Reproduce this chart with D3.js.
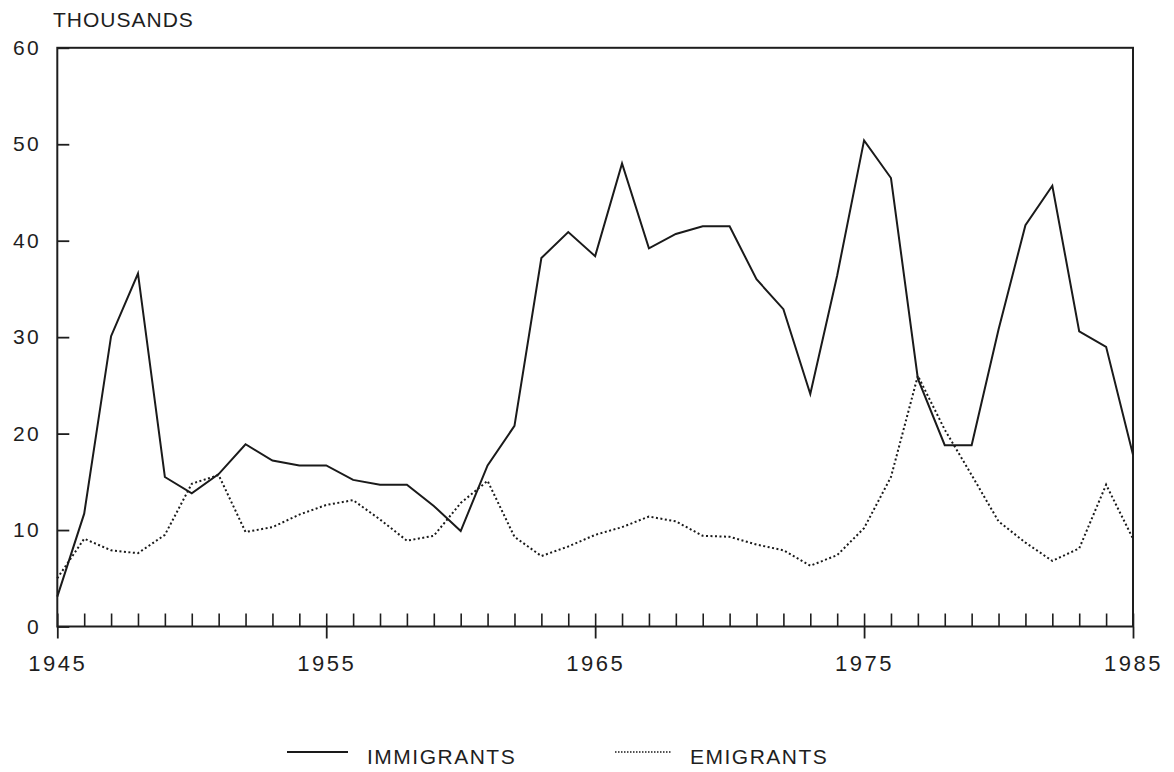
<!DOCTYPE html>
<html>
<head>
<meta charset="utf-8">
<script src="https://cdn.jsdelivr.net/npm/d3@7"></script>
<style>
  body { margin: 0; background: #fff; }
  text { font-family: 'Liberation Sans', Arial, sans-serif; fill: #1e1e1e; }
</style>
</head>
<body>
<div id="chart"></div>
<script>
const years = d3.range(1945, 1986);
const immigrants = [
  3.1, 11.7, 30.1, 36.6, 15.5, 13.8, 15.8, 18.9, 17.2, 16.7,
  16.7, 15.2, 14.7, 14.7, 12.5, 9.9, 16.7, 20.8, 38.2, 40.9,
  38.4, 48.0, 39.2, 40.7, 41.5, 41.5, 36.0, 32.9, 24.1, 36.4,
  50.4, 46.5, 25.7, 18.8, 18.8, 30.8, 41.6, 45.7, 30.6, 29.0,
  17.8
];
const emigrants = [
  5.0, 9.1, 7.9, 7.6, 9.5, 14.8, 15.7, 9.8, 10.3, 11.6,
  12.6, 13.1, 11.1, 8.9, 9.4, 12.8, 15.1, 9.3, 7.3, 8.3,
  9.5, 10.3, 11.4, 10.9, 9.4, 9.3, 8.5, 7.9, 6.3, 7.4,
  10.2, 15.5, 26.0, 20.4, 15.7, 10.9, 8.7, 6.8, 8.1, 14.7,
  9.1
];
const yTicks = [0, 10, 20, 30, 40, 50, 60];
const majorYears = [1945, 1955, 1965, 1975, 1985];

const W = 1174, H = 772;
const svg = d3.select('#chart').append('svg')
  .attr('width', W).attr('height', H);

svg.append('rect').attr('width', W).attr('height', H).attr('fill', '#fff');

const x = d3.scaleLinear().domain([1945, 1985]).range([57.3, 1133]);
const y = d3.scaleLinear().domain([0, 60]).range([626.5, 47.8]);

// frame
svg.append('rect')
  .attr('x', x(1945)).attr('y', y(60))
  .attr('width', x(1985) - x(1945)).attr('height', y(0) - y(60))
  .attr('fill', 'none').attr('stroke', '#1e1e1e').attr('stroke-width', 2);

// minor x ticks, pointing up
const minorAxis = svg.append('g')
  .attr('transform', `translate(0,${y(0)})`)
  .call(d3.axisBottom(x).tickValues(years).tickSize(-13).tickFormat(''));
minorAxis.select('.domain').remove();
minorAxis.selectAll('line').attr('stroke', '#1e1e1e').attr('stroke-width', 1.6);

// major x ticks, pointing down with labels
const majorAxis = svg.append('g')
  .attr('transform', `translate(0,${y(0)})`)
  .call(d3.axisBottom(x).tickValues(majorYears).tickSize(12).tickPadding(17).tickFormat(d3.format('d')));
majorAxis.select('.domain').remove();
majorAxis.selectAll('line').attr('stroke', '#1e1e1e').attr('stroke-width', 1.8);
majorAxis.selectAll('text')
  .attr('font-size', '22px').attr('letter-spacing', '2.5px')
  .attr('fill', '#1e1e1e');

// y axis ticks inward
const yAxis = svg.append('g')
  .attr('transform', `translate(${x(1945)},0)`)
  .call(d3.axisLeft(y).tickValues(yTicks).tickSize(-12).tickPadding(16));
yAxis.select('.domain').remove();
yAxis.selectAll('line').attr('stroke', '#1e1e1e').attr('stroke-width', 1.8);
yAxis.selectAll('text')
  .attr('font-size', '21px').attr('letter-spacing', '2.5px')
  .attr('fill', '#1e1e1e');

svg.append('text')
  .attr('x', 53).attr('y', 27)
  .attr('font-size', '21px').attr('letter-spacing', '1px')
  .text('THOUSANDS');

const line = d3.line()
  .x((d, i) => x(years[i]))
  .y(d => y(d));

svg.append('path')
  .datum(immigrants)
  .attr('d', line)
  .attr('fill', 'none').attr('stroke', '#1a1a1a')
  .attr('stroke-width', 2).attr('stroke-linejoin', 'miter');

svg.append('path')
  .datum(emigrants)
  .attr('d', line)
  .attr('fill', 'none').attr('stroke', '#1a1a1a')
  .attr('stroke-width', 2).attr('stroke-dasharray', '2,2.5');

// legend
const legend = svg.append('g');
legend.append('line')
  .attr('x1', 287).attr('x2', 348).attr('y1', 752).attr('y2', 752)
  .attr('stroke', '#1a1a1a').attr('stroke-width', 2);
legend.append('text')
  .attr('x', 367).attr('y', 764)
  .attr('font-size', '21px').attr('letter-spacing', '1.5px')
  .text('IMMIGRANTS');
legend.append('line')
  .attr('x1', 615).attr('x2', 672).attr('y1', 752).attr('y2', 752)
  .attr('stroke', '#1a1a1a').attr('stroke-width', 1.5).attr('stroke-dasharray', '1.5,1.5');
legend.append('text')
  .attr('x', 690).attr('y', 764)
  .attr('font-size', '21px').attr('letter-spacing', '1.5px')
  .text('EMIGRANTS');
</script>
</body>
</html>
